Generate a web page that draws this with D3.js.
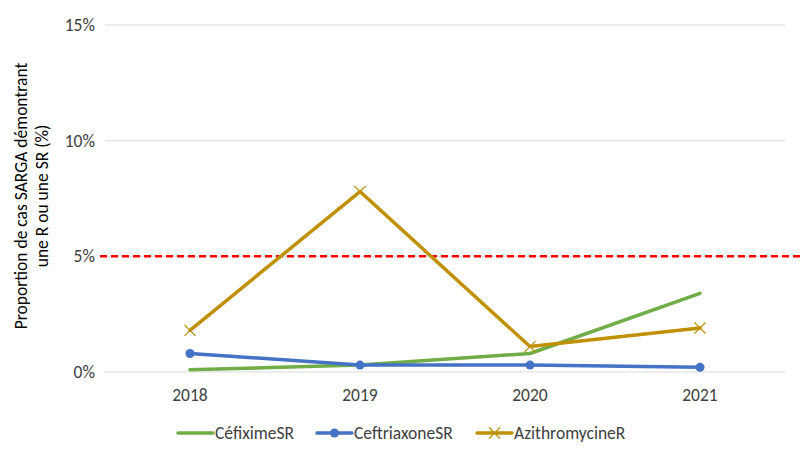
<!DOCTYPE html>
<html><head><meta charset="utf-8">
<script src="https://cdn.jsdelivr.net/npm/d3@7"></script>
<style>body{margin:0;background:#fff}text{font-family:Carlito,"Open Sans","Liberation Sans",sans-serif}</style>
</head><body><svg id="c" width="800" height="458"></svg>
<script>
const years = ["2018","2019","2020","2021"];
const cefixime = [0.1, 0.3, 0.8, 3.4];
const ceftriaxone = [0.8, 0.3, 0.3, 0.2];
const azithro = [1.8, 7.8, 1.1, 1.9];
const yTicks = [0, 5, 10, 15];
const threshold = 5;
const seriesNames = ["CéfiximeSR","CeftriaxoneSR","AzithromycineR"];

const svg = d3.select("#c");
const L = 105, R = 785, T = 25, B = 372;
const x = d3.scaleBand().domain(years).range([L, R]);
const y = d3.scaleLinear().domain([0, 15]).range([B, T]);
const font = 17.5;

svg.append("g").selectAll("line").data(yTicks).join("line")
  .attr("x1", L).attr("x2", R).attr("y1", d => y(d)).attr("y2", d => y(d))
  .attr("stroke", "#d9d9d9").attr("stroke-width", 1);
svg.append("g").selectAll("text").data(yTicks).join("text")
  .attr("x", 95).attr("y", d => y(d)).attr("dy", "0.35em").attr("text-anchor", "end")
  .attr("font-size", font).attr("fill", "#404040").text(d => d + "%");
svg.append("g").selectAll("text").data(years).join("text")
  .attr("x", d => x(d) + x.bandwidth()/2).attr("y", 395).attr("dy", "0.35em")
  .attr("text-anchor", "middle").attr("font-size", font).attr("fill", "#404040").text(d => d);
const tt = svg.append("text").attr("transform", "translate(0,196) rotate(-90)")
  .attr("text-anchor", "middle").attr("font-size", font).attr("fill", "#000");
tt.append("tspan").attr("x", 0).attr("y", 27).text("Proportion de cas SARGA démontrant");
tt.append("tspan").attr("x", 0).attr("y", 48).text("une R ou une SR (%)");

svg.append("line").attr("x1", 100).attr("x2", 800).attr("y1", y(threshold)).attr("y2", y(threshold))
  .attr("stroke", "#ff0000").attr("stroke-width", 2.5).attr("stroke-dasharray", "7,4");

const cx = d => x(d) + x.bandwidth()/2;
const line = d3.line().x((d,i) => cx(years[i])).y(d => y(d));
const series = [
  {name: seriesNames[0], vals: cefixime, color: "#70ad47", marker: "none"},
  {name: seriesNames[1], vals: ceftriaxone, color: "#4472c4", marker: "dot"},
  {name: seriesNames[2], vals: azithro, color: "#bf9000", marker: "x"}
];
function drawMarker(g, type, px, py, color) {
  if (type === "dot") g.append("circle").attr("cx", px).attr("cy", py).attr("r", 4.5).attr("fill", color);
  if (type === "x") {
    const s = 5.5;
    g.append("path").attr("d", `M${px-s},${py-s}L${px+s},${py+s}M${px-s},${py+s}L${px+s},${py-s}`)
      .attr("stroke", color).attr("stroke-width", 1.2).attr("fill", "none");
  }
}
series.forEach(s => {
  const g = svg.append("g");
  g.append("path").attr("d", line(s.vals)).attr("fill", "none").attr("stroke", s.color)
    .attr("stroke-width", 3.5).attr("stroke-linejoin", "round").attr("stroke-linecap", "round");
  s.vals.forEach((v,i) => drawMarker(g, s.marker, cx(years[i]), y(v), s.color));
});

const lx = [178, 317, 477];
series.forEach((s,i) => {
  const g = svg.append("g");
  g.append("line").attr("x1", lx[i]).attr("x2", lx[i]+35).attr("y1", 433).attr("y2", 433)
    .attr("stroke", s.color).attr("stroke-width", 3.5).attr("stroke-linecap", "round");
  drawMarker(g, s.marker, lx[i]+17.5, 433, s.color);
  g.append("text").attr("x", lx[i]+37).attr("y", 433).attr("dy", "0.35em").attr("font-size", font)
    .attr("fill", "#404040").text(s.name);
});
</script></body></html>
